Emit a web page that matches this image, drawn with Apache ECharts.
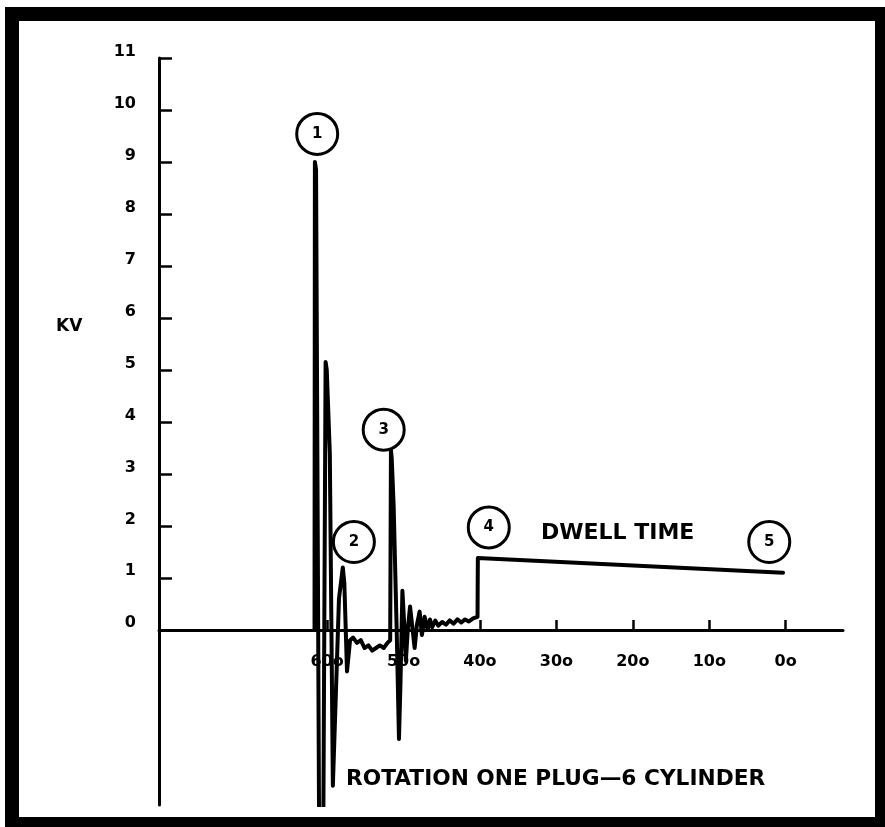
<!DOCTYPE html>
<html>
<head>
<meta charset="utf-8">
<script src="https://cdn.jsdelivr.net/npm/echarts@6/dist/echarts.min.js"></script>
<style>html,body{margin:0;padding:0;background:#fff}#c{width:885px;height:827px}</style>
</head>
<body>
<div id="c"></div>
<script>
// Degrees of rotation (x) and kilovolts (y) of the ignition trace
var traceDeg = [61.65, 61.6, 61.45, 61.05, 60.5, 60.4, 60.2, 60.05, 59.65, 59.25, 58.45, 57.95, 57.75, 57.4, 57.0,
  56.6, 56.1, 55.6, 55.1, 54.6, 54.1, 53.6, 53.1, 52.6, 52.1, 51.75, 51.65, 51.55, 51.3, 50.9, 50.6, 50.4,
  50.15, 49.95, 49.7, 49.45, 49.15, 48.85, 48.55, 48.25, 47.9, 47.6, 47.25, 46.85, 46.55, 46.25, 45.85, 45.45,
  44.95, 44.45, 43.95, 43.45, 42.95, 42.45, 41.95, 41.45, 40.9, 40.32, 40.28, 0.35];
var traceKV = [0, 9.0, 8.85, -3.8, -3.8, -3.8, 5.15, 5.0, 3.4, -3.0, 0.6, 1.2, 0.9, -0.8, -0.2,
  -0.15, -0.25, -0.2, -0.35, -0.3, -0.4, -0.35, -0.3, -0.35, -0.25, -0.2, 3.45, 3.3, 2.4, 0.0, -2.1, -1.0,
  0.75, 0.2, -0.6, 0.0, 0.45, 0.05, -0.35, 0.1, 0.35, -0.1, 0.25, 0.0, 0.2, 0.05, 0.18, 0.08,
  0.15, 0.1, 0.18, 0.12, 0.2, 0.14, 0.2, 0.16, 0.22, 0.25, 1.38, 1.1];

// Circled markers 1..5
var markerLabels = ['1', '2', '3', '4', '5'];
var markerDeg = [61.3, 56.5, 52.6, 38.85, 2.15];
var markerKV = [9.54, 1.69, 3.85, 1.97, 1.69];

// Tick labels
var xTicks = [0, 10, 20, 30, 40, 50, 60];
var xTickLabels = ['0o', '10o', '20o', '30o', '40o', '50o', '60o'];
var yTicks = [0, 1, 2, 3, 4, 5, 6, 7, 8, 9, 10, 11];
var yTickLabels = ['0', '1', '2', '3', '4', '5', '6', '7', '8', '9', '10', '11'];

var yAxisName = 'KV';
var noteText = 'DWELL TIME';
var captionText = 'ROTATION ONE PLUG\u20146 CYLINDER';

var chart = echarts.init(document.getElementById('c'), null, {renderer: 'canvas'});
var font = 'DejaVu Sans';

var traceData = traceDeg.map(function (d, i) { return [d, traceKV[i]]; });
var markerData = markerDeg.map(function (d, i) { return {value: [d, markerKV[i]], name: markerLabels[i]}; });

chart.setOption({
  backgroundColor: '#ffffff',
  animation: false,
  grid: {left: 159, right: 42, top: 58, bottom: 22, containLabel: false, outerBoundsMode: 'none'},
  xAxis: {
    type: 'value', inverse: true, min: -7.5, max: 82, position: 'bottom', offset: -175,
    axisLine: {show: true, onZero: false, lineStyle: {color: '#000', width: 3}},
    axisTick: {show: true, inside: true, length: 10, customValues: xTicks, lineStyle: {color: '#000', width: 2.5}},
    axisLabel: {
      show: true, customValues: xTicks, margin: 24,
      color: '#000', fontFamily: font, fontWeight: 'bold', fontSize: 16,
      formatter: function (v) { var i = xTicks.indexOf(v); return i >= 0 ? xTickLabels[i] : ''; }
    },
    splitLine: {show: false}
  },
  yAxis: {
    type: 'value', min: -3.37, max: 11,
    axisLine: {show: true, onZero: false, lineStyle: {color: '#000', width: 3}},
    axisTick: {show: true, inside: true, length: 13, customValues: yTicks, lineStyle: {color: '#000', width: 2.5}},
    axisLabel: {
      show: true, customValues: yTicks, margin: 23, verticalAlign: 'bottom', lineHeight: 13,
      color: '#000', fontFamily: font, fontWeight: 'bold', fontSize: 16,
      formatter: function (v) { var i = yTicks.indexOf(v); return i >= 0 ? yTickLabels[i] : ''; }
    },
    splitLine: {show: false}
  },
  series: [
    {
      type: 'line', data: traceData, symbol: 'none', clip: true, z: 3,
      lineStyle: {color: '#000', width: 4, join: 'round', cap: 'round'}
    },
    {
      type: 'scatter', data: markerData, symbol: 'circle', symbolSize: 41, z: 4, clip: false,
      itemStyle: {color: '#fff', borderColor: '#000', borderWidth: 3, opacity: 1},
      label: {show: true, position: 'inside', formatter: '{b}', color: '#000',
        fontFamily: font, fontWeight: 'bold', fontSize: 15}
    }
  ],
  graphic: [
    {type: 'rect', shape: {x: 5, y: 7, width: 880, height: 14}, style: {fill: '#000'}},
    {type: 'rect', shape: {x: 5, y: 7, width: 14, height: 820}, style: {fill: '#000'}},
    {type: 'rect', shape: {x: 875, y: 7, width: 10, height: 820}, style: {fill: '#000'}},
    {type: 'rect', shape: {x: 5, y: 817, width: 880, height: 10}, style: {fill: '#000'}},
    {type: 'text', left: 56, top: 318, style: {text: yAxisName, fill: '#000', font: 'bold 17px "DejaVu Sans"'}},
    {type: 'text', left: 541, top: 522, style: {text: noteText, fill: '#000', font: 'bold 22px "DejaVu Sans"'}},
    {type: 'text', left: 346, top: 768, style: {text: captionText, fill: '#000', font: 'bold 21.7px "DejaVu Sans"'}}
  ]
});
</script>
</body>
</html>
